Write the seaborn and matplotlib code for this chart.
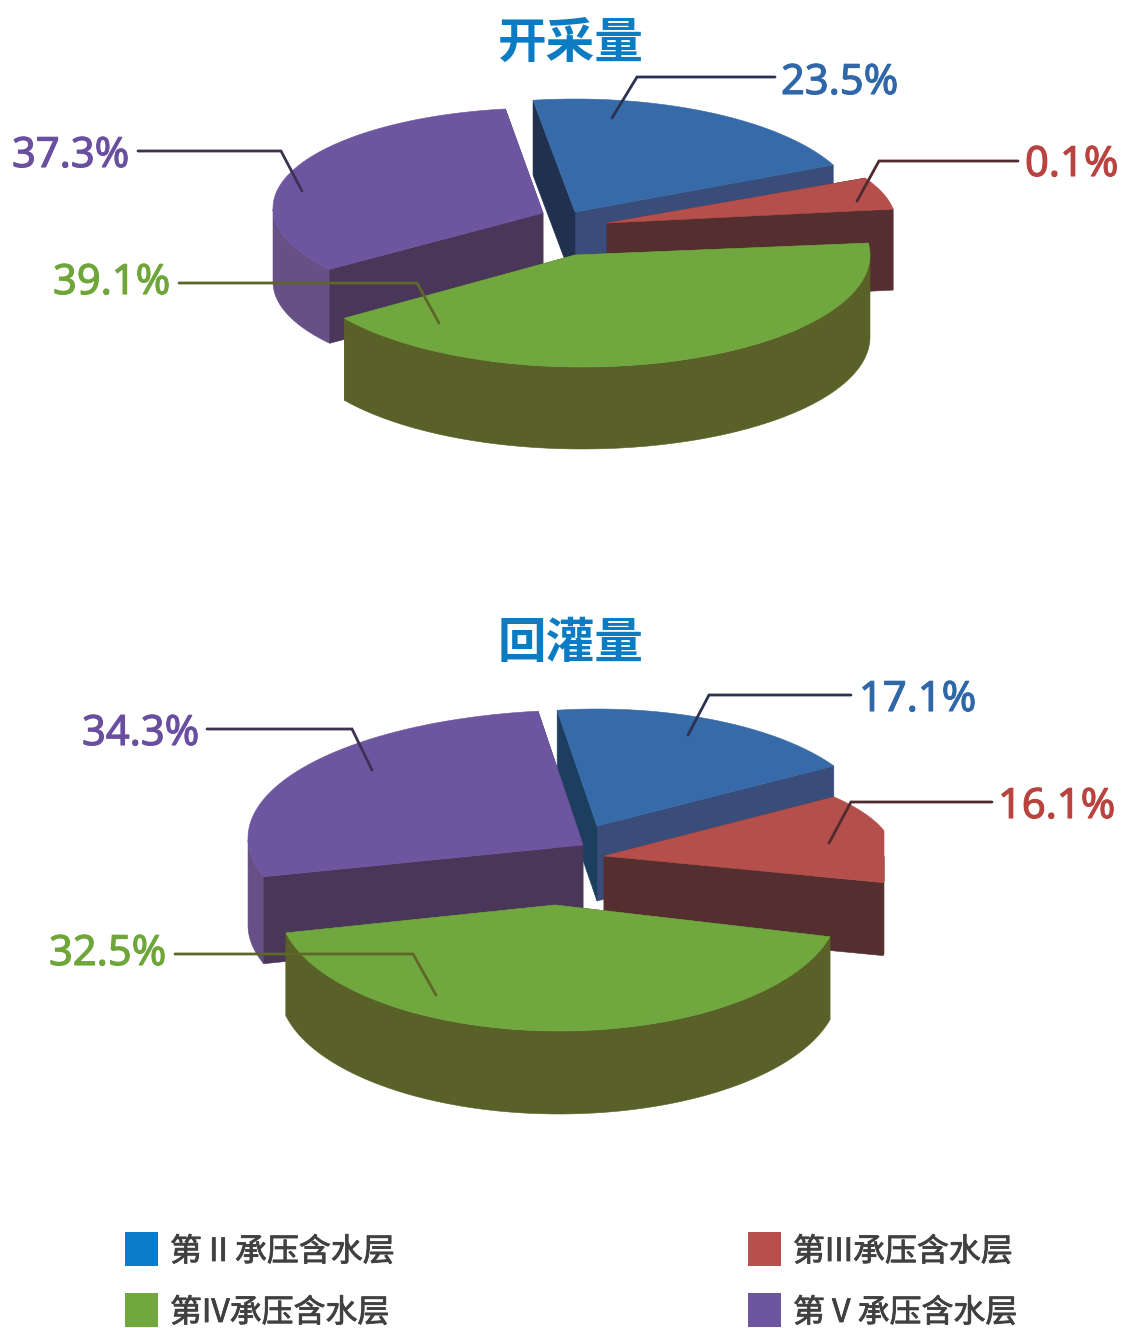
import numpy as np
import matplotlib
matplotlib.use('Agg')
import matplotlib.pyplot as plt
import matplotlib.patheffects as pe
from matplotlib.patches import Polygon, Rectangle
import seaborn as sns

sns.set_theme(style='white')
plt.rcParams['font.family'] = ['Noto Sans CJK SC', 'DejaVu Sans']

# data
layers = ['第 II 承压含水层', '第III承压含水层', '第IV承压含水层', '第 V 承压含水层']
titles = ['开采量', '回灌量']
pump_share = [23.5, 0.1, 39.1, 37.3]
recharge_share = [17.1, 16.1, 32.5, 34.3]

# drawn arc of each slice in degrees, the 3D view does not follow the shares
pump_arcs = [(24.6, 98.5), (8, 26.7), (-145.6, 6.1), (98, 217.8)]
recharge_arcs = [(30.9, 98.3), (-15.9, 37.5), (-167.2, -14.6), (97.7, 197.6)]

# colours
legend_colors = sns.color_palette(['#0a7bc8', '#b94f4c', '#70a83f', '#6e55a0'])
top_colors = ['#366aa8', '#b54f4b', '#70a83f', '#6e55a0']
label_colors = ['#2f67a8', '#b8433f', '#6fa63a', '#6a4fa0']
line_colors = ['#2b3152', '#4f2a2f', '#5f6628', '#3d3050']
wall_colors = ['#3a4d7a', '#552f30', '#5a6128', '#4a3658']
rim_colors = ['#3a4d7a', '#552f30', '#5a6128', '#665085']
pump_back = '#22304f'
recharge_back = '#1c3f60'


def arc_points(cx, cy, rx, ry, t1, t2, xmax=None):
    t = np.linspace(t1, t2, 120)
    pts = np.column_stack([cx + rx * np.cos(np.radians(t)), cy - ry * np.sin(np.radians(t))])
    if xmax is not None:
        pts[:, 0] = np.minimum(pts[:, 0], xmax)
    return t, pts


def draw_slice(ax, i, apex, center, radii, arc, depth, back_color=None, xmax=None):
    ax_, ay = apex
    t, rim = arc_points(center[0], center[1], radii[0], radii[1], arc[0], arc[1], xmax)
    lw = 0.4

    # outer wall, only the part of the rim that faces the viewer
    front = rim[np.sin(np.radians(t)) <= 0]
    if len(front) > 1:
        low = front + [0, depth]
        ax.add_patch(Polygon(np.vstack([front, low[::-1]]), fc=rim_colors[i], ec=rim_colors[i], lw=lw))

    # the two cut faces
    for p, col in [(rim[0], wall_colors[i]), (rim[-1], back_color or wall_colors[i])]:
        quad = [(ax_, ay), p, (p[0], p[1] + depth), (ax_, ay + depth)]
        ax.add_patch(Polygon(quad, fc=col, ec=col, lw=lw))

    # top face
    ax.add_patch(Polygon(np.vstack([[apex], rim]), fc=top_colors[i], ec=top_colors[i], lw=lw))


fig = plt.figure(figsize=(11.23, 13.28), dpi=100, facecolor='white')
ax = fig.add_axes([0, 0, 1, 1])
ax.set_xlim(0, 1123)
ax.set_ylim(1328, 0)
ax.axis('off')

# painter's order: blue, red, purple, green
draw_slice(ax, 0, (575, 212), (575, 212), (284, 113), pump_arcs[0], 75, pump_back)
draw_slice(ax, 1, (607, 223), (607, 223), (289, 100), pump_arcs[1], 81)
draw_slice(ax, 3, (543, 213), (543, 208), (270, 100), pump_arcs[3], 74)
draw_slice(ax, 2, (575, 255), (582, 255), (288, 112), pump_arcs[2], 82)

draw_slice(ax, 0, (597, 826), (597, 826), (276, 117), recharge_arcs[0], 75, recharge_back)
draw_slice(ax, 1, (604, 856), (604, 856), (290, 97), recharge_arcs[1], 73, xmax=884)
draw_slice(ax, 3, (583, 845), (583, 838), (335, 128), recharge_arcs[3], 87)
draw_slice(ax, 2, (555, 905), (559, 905), (280, 126), recharge_arcs[2], 83)

# leader lines
pump_leaders = [[(612, 118), (637, 77), (775, 77)], [(857, 201), (879, 161), (1018, 161)],
                [(439, 323), (417, 283), (179, 283)], [(302, 191), (281, 151), (138, 151)]]
recharge_leaders = [[(688, 735), (709, 695), (851, 695)], [(829, 843), (851, 802), (992, 802)],
                    [(436, 995), (413, 954), (175, 954)], [(372, 770), (352, 729), (207, 729)]]
for leaders in [pump_leaders, recharge_leaders]:
    for i, pts in enumerate(leaders):
        xs, ys = zip(*pts)
        ax.plot(xs, ys, color=line_colors[i], lw=2, solid_joinstyle='miter')

# percentage labels, the small stroke makes the weight closer to the original
pump_pos = [(781, 83), (1025, 165), (53, 283), (12, 156)]
recharge_pos = [(859, 700), (998, 807), (49, 954), (82, 734)]
for shares, pos in [(pump_share, pump_pos), (recharge_share, recharge_pos)]:
    for i, v in enumerate(shares):
        txt = ax.text(pos[i][0], pos[i][1], f'{v:.1f}%', color=label_colors[i], fontsize=30,
                      family='Noto Sans', ha='left', va='center')
        txt.set_path_effects([pe.withStroke(linewidth=0.8, foreground=label_colors[i])])

# titles
for title, y in zip(titles, [43, 643]):
    ax.text(571, y, title, color='#0b7cc4', fontsize=35, fontweight='black', ha='center', va='center')

# legend
legend_pos = [(125, 1232), (748, 1232), (125, 1293), (748, 1293)]
for i, name in enumerate(layers):
    x, y = legend_pos[i]
    ax.add_patch(Rectangle((x, y), 33, 34, fc=legend_colors[i], ec='none'))
    txt = ax.text(x + 45, y + 20, name, color='#404040', fontsize=23, ha='left', va='center')
    txt.set_path_effects([pe.withStroke(linewidth=0.6, foreground='#404040')])

plt.savefig('out.png', dpi=100, facecolor='white')
